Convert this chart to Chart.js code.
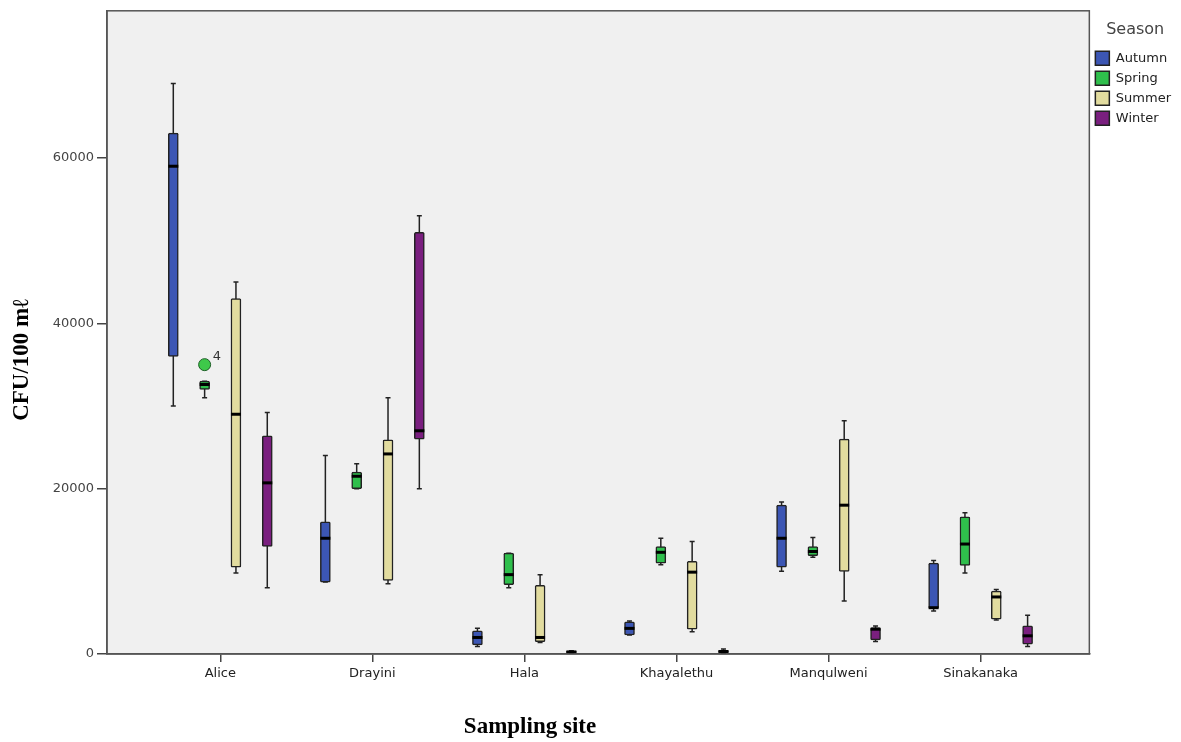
<!DOCTYPE html>
<html>
<head>
<meta charset="utf-8">
<script src="https://cdn.jsdelivr.net/npm/chart.js@4.4.1/dist/chart.umd.min.js"></script>
<style>
  html, body { margin: 0; padding: 0; background: #fff; }
  #wrap { width: 1181px; height: 742px; }
</style>
</head>
<body>
<div id="wrap"><canvas id="box-chart" width="1181" height="742"></canvas></div>
<script>
// Sites and seasons
const sites = ['Alice', 'Drayini', 'Hala', 'Khayalethu', 'Manqulweni', 'Sinakanaka'];
const seasons = ['Autumn', 'Spring', 'Summer', 'Winter'];
const yTicks = [0, 20000, 40000, 60000];

// Five-number summaries per site: [min, q1, median, q3, max]
const autumn = [
  [30000, 36000, 59000, 63000, 69000],
  [8700, 8700, 14000, 16000, 24000],
  [900, 1100, 2000, 2800, 3100],
  [2300, 2300, 3100, 3900, 4000],
  [10000, 10500, 14000, 18000, 18400],
  [5200, 5500, 5600, 11000, 11300]
];
const spring = [
  [31000, 32000, 32600, 33000, 33000],
  [20000, 20000, 21500, 22000, 23000],
  [8000, 8400, 9600, 12200, 12200],
  [10800, 11000, 12300, 13000, 14000],
  [11700, 11900, 12400, 13000, 14100],
  [9800, 10700, 13300, 16600, 17100]
];
const summer = [
  [9800, 10500, 29000, 43000, 45000],
  [8500, 8900, 24200, 25900, 31000],
  [1400, 1500, 2000, 8300, 9600],
  [2700, 3000, 9900, 11200, 13600],
  [6400, 10000, 18000, 26000, 28200],
  [4100, 4200, 6900, 7600, 7800]
];
const winter = [
  [8000, 13000, 20700, 26400, 29200],
  [20000, 26000, 27000, 51000, 53000],
  [100, 150, 250, 350, 400],
  [100, 150, 300, 450, 600],
  [1500, 1700, 3000, 3200, 3400],
  [900, 1200, 2200, 3400, 4700]
];

// Outlier (Alice, Spring, case 4)
const outlierSite = 0;
const outlierSeason = 1;
const outlierValue = 35000;
const outlierLabel = '4';

const seasonStats = [autumn, spring, summer, winter];
const seasonColors = ['#3c56b4', '#2fbf4c', '#e2dc9f', '#7a1f7f'];
const seasonOffsets = [-0.309, -0.103, 0.103, 0.309];
const fontFamily = '"DejaVu Sans", Arial, sans-serif';

// Draws whiskers, medians, plot frame and axis titles
const boxPlotPlugin = {
  id: 'boxPlot',
  beforeDraw(chart) {
    const { ctx, chartArea: a } = chart;
    ctx.save();
    ctx.fillStyle = '#f0f0f0';
    ctx.fillRect(a.left, a.top, a.right - a.left, a.bottom - a.top);
    ctx.restore();
  },
  beforeDatasetsDraw(chart) {
    const { ctx } = chart;
    const yScale = chart.scales.y;
    ctx.save();
    ctx.strokeStyle = '#222';
    ctx.lineWidth = 1.5;
    seasonStats.forEach((stats, k) => {
      const meta = chart.getDatasetMeta(k);
      stats.forEach((s, i) => {
        const bar = meta.data[i];
        const yMin = yScale.getPixelForValue(s[0]);
        const yMax = yScale.getPixelForValue(s[4]);
        ctx.beginPath();
        ctx.moveTo(bar.x, yMin);
        ctx.lineTo(bar.x, yMax);
        ctx.moveTo(bar.x - 2.5, yMin);
        ctx.lineTo(bar.x + 2.5, yMin);
        ctx.moveTo(bar.x - 2.5, yMax);
        ctx.lineTo(bar.x + 2.5, yMax);
        ctx.stroke();
      });
    });
    ctx.restore();
  },
  afterDatasetsDraw(chart) {
    const { ctx, chartArea: a } = chart;
    const yScale = chart.scales.y;
    ctx.save();
    // medians
    ctx.strokeStyle = '#000';
    ctx.lineWidth = 3;
    seasonStats.forEach((stats, k) => {
      const meta = chart.getDatasetMeta(k);
      stats.forEach((s, i) => {
        const bar = meta.data[i];
        const y = yScale.getPixelForValue(s[2]);
        ctx.beginPath();
        ctx.moveTo(bar.x - bar.width / 2, y);
        ctx.lineTo(bar.x + bar.width / 2, y);
        ctx.stroke();
      });
    });
    // outlier case label
    const pt = chart.getDatasetMeta(4).data[0];
    ctx.fillStyle = '#333';
    ctx.font = '13px ' + fontFamily;
    ctx.textAlign = 'left';
    ctx.textBaseline = 'middle';
    ctx.fillText(outlierLabel, pt.x + 8, pt.y - 8);
    // frame
    ctx.strokeStyle = '#555';
    ctx.lineWidth = 1.5;
    ctx.strokeRect(a.left, a.top, a.right - a.left, a.bottom - a.top);
    ctx.restore();
  },
  afterDraw(chart) {
    const { ctx } = chart;
    ctx.save();
    ctx.fillStyle = '#000';
    ctx.font = 'bold 23px "Liberation Serif", "Times New Roman", serif';
    ctx.textAlign = 'center';
    ctx.textBaseline = 'middle';
    ctx.fillText('Sampling site', 530, 727);
    ctx.translate(22, 360);
    ctx.rotate(-Math.PI / 2);
    ctx.fillText('CFU/100 m\u2113', 0, 0);
    ctx.restore();
  }
};

function buildDatasets() {
  const boxes = seasons.map((name, k) => ({
    type: 'bar',
    label: name,
    data: seasonStats[k].map((s, i) => ({ x: i + seasonOffsets[k], y: [s[1], s[3]] })),
    backgroundColor: seasonColors[k],
    borderColor: '#222',
    borderWidth: 1.5,
    borderSkipped: false,
    borderRadius: 1.5,
    barThickness: 10,
    grouped: false
  }));
  boxes.push({
    type: 'scatter',
    label: 'outlier',
    data: [{ x: outlierSite + seasonOffsets[outlierSeason], y: outlierValue }],
    backgroundColor: '#3ec94a',
    borderColor: '#1d5f26',
    borderWidth: 1,
    pointRadius: 6
  });
  return boxes;
}

const ctx = document.getElementById('box-chart').getContext('2d');
const boxChart = new Chart(ctx, {
  type: 'bar',
  data: { datasets: buildDatasets() },
  plugins: [boxPlotPlugin],
  options: {
    responsive: false,
    animation: false,
    devicePixelRatio: 1,
    layout: { padding: { top: 8, left: 0, right: 0, bottom: 0 } },
    scales: {
      x: {
        type: 'linear',
        offset: false,
        min: -0.745,
        max: 5.715,
        afterBuildTicks: (scale) => { scale.ticks = sites.map((_, i) => ({ value: i })); },
        afterFit: (scale) => { scale.height = 88; },
        ticks: {
          callback: (v) => sites[v],
          font: { family: fontFamily, size: 13 },
          color: '#222',
          maxRotation: 0,
          padding: 4
        },
        grid: { offset: false, drawOnChartArea: false, drawTicks: true, tickLength: 8, color: '#444', lineWidth: 1.5 },
        border: { color: '#555', width: 1.5 }
      },
      y: {
        min: 0,
        max: 77800,
        afterBuildTicks: (scale) => { scale.ticks = yTicks.map(v => ({ value: v })); },
        afterFit: (scale) => { scale.width = 107; },
        ticks: {
          callback: (v) => String(v),
          font: { family: fontFamily, size: 13 },
          color: '#444',
          padding: 3
        },
        grid: { drawOnChartArea: false, drawTicks: true, tickLength: 10, color: '#444', lineWidth: 1.5 },
        border: { color: '#555', width: 1.5 }
      }
    },
    plugins: {
      legend: {
        position: 'right',
        align: 'start',
        title: {
          display: true,
          text: 'Season',
          color: '#444',
          font: { family: fontFamily, size: 16 },
          padding: { top: 14, bottom: 4 }
        },
        labels: {
          filter: (item) => item.datasetIndex < 4,
          boxWidth: 14,
          boxHeight: 14,
          padding: 6,
          color: '#222',
          font: { family: fontFamily, size: 13 }
        }
      },
      tooltip: { enabled: false }
    }
  }
});
</script>
</body>
</html>
